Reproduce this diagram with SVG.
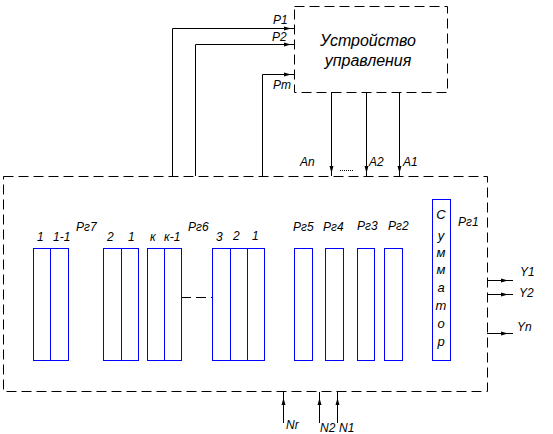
<svg xmlns="http://www.w3.org/2000/svg" width="553" height="434" viewBox="0 0 553 434">
<style>
.bx{fill:none;stroke:#000;stroke-width:1;stroke-dasharray:10 5}
.ln{fill:none;stroke:#000;stroke-width:1}
.rg{fill:#fff;stroke:#0000ff;stroke-width:1}
.ah{fill:#000}
text{font-family:"Liberation Sans",Arial,sans-serif;font-style:italic;fill:#000;font-size:12px}
.big{font-size:16px}
.sm{font-size:13px;text-anchor:middle}
</style>
<rect width="553" height="434" fill="#fff"/>
<g id="connectors">
  <path class="ln" d="M172.5,176 V28.5 H294"/>
  <path class="ln" d="M195.5,176 V44.5 H294"/>
  <path class="ln" d="M262.5,176 V74.5 H294"/>
  <path class="ah" d="M284,26.5 L291,28.5 L284,30.5 Z"/>
  <path class="ah" d="M284,42.5 L291,44.5 L284,46.5 Z"/>
  <path class="ah" d="M284,72.5 L291,74.5 L284,76.5 Z"/>
  <path class="ln" d="M331.5,92 V176"/>
  <path class="ln" d="M366.5,92 V176"/>
  <path class="ln" d="M399.5,92 V176"/>
  <path class="ah" d="M329.5,166 L331.5,173 L333.5,166 Z"/>
  <path class="ah" d="M364.5,166 L366.5,173 L368.5,166 Z"/>
  <path class="ah" d="M397.5,166 L399.5,173 L401.5,166 Z"/>
  <path class="ln" d="M340,170.5 H353" stroke-dasharray="1 1"/>
  <path class="ln" d="M487,280.5 H513"/>
  <path class="ln" d="M487,294.5 H513"/>
  <path class="ln" d="M487,333.5 H513"/>
  <path class="ah" d="M501,278.5 L508,280.5 L501,282.5 Z"/>
  <path class="ah" d="M501,292.5 L508,294.5 L501,296.5 Z"/>
  <path class="ah" d="M501,331.5 L508,333.5 L501,335.5 Z"/>
  <path class="ln" d="M283.5,392 V423"/>
  <path class="ln" d="M319.5,392 V423"/>
  <path class="ln" d="M337.5,392 V423"/>
  <path class="ah" d="M281.5,405 L283.5,398 L285.5,405 Z"/>
  <path class="ah" d="M317.5,405 L319.5,398 L321.5,405 Z"/>
  <path class="ah" d="M335.5,405 L337.5,398 L339.5,405 Z"/>
  <path class="bx" d="M181,297.5 H212"/>
</g>
<g id="control">
  <rect class="bx" x="294.5" y="6.5" width="153" height="86"/>
  <text class="big" x="368" y="46" text-anchor="middle">Устройство</text>
  <text class="big" x="368" y="66" text-anchor="middle">управления</text>
</g>
<g id="labels-p">
  <text x="273" y="24">P1</text>
  <text x="272" y="41">P2</text>
  <text x="273" y="89">Pm</text>
  <text x="300" y="166">An</text>
  <text x="369" y="166">A2</text>
  <text x="403" y="166">A1</text>
</g>
<g id="main">
  <rect class="bx" x="3.5" y="176.5" width="484" height="215"/>
</g>
<g id="rg7">
  <rect class="rg" x="33.5" y="248.5" width="35" height="112"/>
  <path class="rg" d="M50.5,248.5 V360.5"/>
  <text x="37" y="241">1</text>
  <text x="53" y="241">1-1</text>
  <text x="76" y="231">Рг7</text>
</g>
<g id="rg6">
  <rect class="rg" x="103.5" y="248.5" width="35" height="112"/>
  <path class="rg" d="M121.5,248.5 V360.5"/>
  <rect class="rg" x="147.5" y="248.5" width="34" height="112"/>
  <path class="rg" d="M164.5,248.5 V360.5"/>
  <rect class="rg" x="212.5" y="248.5" width="52" height="112"/>
  <path class="rg" d="M230.5,248.5 V360.5 M247.5,248.5 V360.5"/>
  <text x="107" y="241">2</text>
  <text x="128" y="241">1</text>
  <text x="150" y="241">к</text>
  <text x="164" y="241">к-1</text>
  <text x="188" y="231">Рг6</text>
  <text x="216" y="241">3</text>
  <text x="233" y="240">2</text>
  <text x="252" y="240">1</text>
</g>
<g id="rg5">
  <rect class="rg" x="294.5" y="248.5" width="18" height="112"/>
  <text x="293" y="231">Рг5</text>
</g>
<g id="rg4">
  <rect class="rg" x="325.5" y="248.5" width="18" height="112"/>
  <text x="323" y="231">Рг4</text>
</g>
<g id="rg3">
  <rect class="rg" x="357.5" y="248.5" width="17" height="112"/>
  <text x="357" y="230">Рг3</text>
</g>
<g id="rg2">
  <rect class="rg" x="384.5" y="248.5" width="18" height="112"/>
  <text x="388" y="230">Рг2</text>
</g>
<g id="rg1">
  <rect class="rg" x="432.5" y="199.5" width="18" height="161"/>
  <text class="sm" x="441" y="219">С</text>
  <text class="sm" x="441" y="240">у</text>
  <text class="sm" x="441" y="257">м</text>
  <text class="sm" x="441" y="274">м</text>
  <text class="sm" x="441" y="292">а</text>
  <text class="sm" x="441" y="310">т</text>
  <text class="sm" x="441" y="328">о</text>
  <text class="sm" x="441" y="346">р</text>
  <text x="458" y="226">Рг1</text>
</g>
<g id="labels-out">
  <text x="520" y="276">Y1</text>
  <text x="519" y="297">Y2</text>
  <text x="517" y="331">Yn</text>
  <text x="286" y="429">Nr</text>
  <text x="320" y="432">N2</text>
  <text x="339" y="432">N1</text>
</g>
</svg>
